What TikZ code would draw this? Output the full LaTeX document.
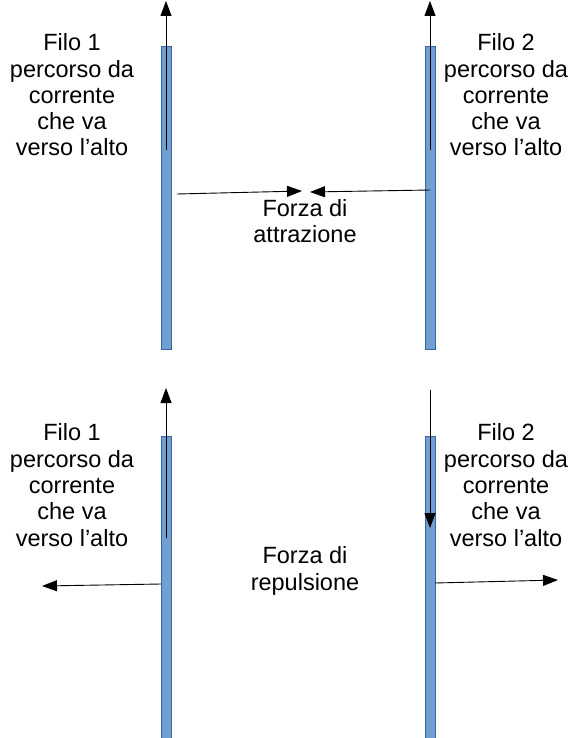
\documentclass[tikz,border=0pt]{standalone}
\usepackage{fontspec}
\setmainfont{Liberation Sans}
\usetikzlibrary{arrows.meta}
\definecolor{wireblue}{HTML}{729FCF}
\definecolor{wireedge}{HTML}{3465A4}
\tikzset{
  wire/.style={draw=wireedge, fill=wireblue, line width=0.4pt, inner sep=0pt,
    minimum width=10pt, minimum height=303pt},
  flow/.style={-{Triangle[length=15pt,width=11pt]}, line width=0.9pt},
  desc/.style={align=center, inner sep=0pt, font=\fontsize{23.5}{26.3}\selectfont}
}
\begin{document}
\begin{tikzpicture}[x=1pt,y=-1pt]
\useasboundingbox (0,0) rectangle (583,738);
% fili, attrazione
\node[wire] (w1) at (166,197.5) {};
\node[wire] (w2) at (430,197.5) {};
% fili, repulsione
\node[wire] (w3) at (166,587.5) {};
\node[wire] (w4) at (430,587.5) {};
% testi
\node[desc] (t1) at (72,95) {Filo 1\\percorso da\\corrente\\che va\\verso l’alto};
\node[desc] (t2) at (506,95) {Filo 2\\percorso da\\corrente\\che va\\verso l’alto};
\node[desc] (t3) at (305,221) {Forza di\\attrazione};
\node[desc] (t4) at (72,485) {Filo 1\\percorso da\\corrente\\che va\\verso l’alto};
\node[desc] (t5) at (506,485) {Filo 2\\percorso da\\corrente\\che va\\verso l’alto};
\node[desc] (t6) at (305,571) {Forza di\\repulsione};
% estremi delle frecce
\coordinate (c1a) at (166,150);  \coordinate (c1b) at (166,1);
\coordinate (c2a) at (430,150);  \coordinate (c2b) at (430,1);
\coordinate (f1a) at (177,194);  \coordinate (f1b) at (302,191);
\coordinate (f2a) at (430,190);  \coordinate (f2b) at (310,192);
\coordinate (c3a) at (166,538);  \coordinate (c3b) at (166,388);
\coordinate (c4a) at (430,390);  \coordinate (c4b) at (430,528);
\coordinate (f3a) at (161,584);  \coordinate (f3b) at (42,586);
\coordinate (f4a) at (435,583);  \coordinate (f4b) at (558,580);
% correnti
\draw[flow] (c1a) -- (c1b);
\draw[flow] (c2a) -- (c2b);
\draw[flow] (c3a) -- (c3b);
\draw[flow] (c4a) -- (c4b);
% forze
\draw[flow] (f1a) -- (f1b);
\draw[flow] (f2a) -- (f2b);
\draw[flow] (f3a) -- (f3b);
\draw[flow] (f4a) -- (f4b);
\end{tikzpicture}
\end{document}
